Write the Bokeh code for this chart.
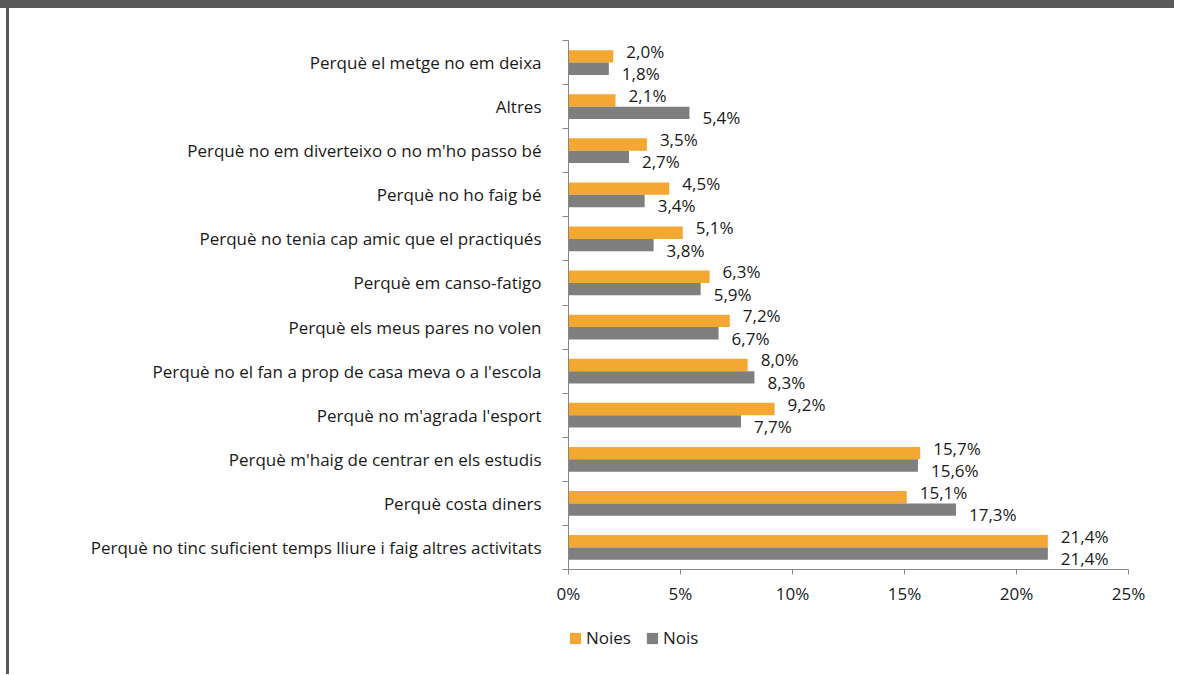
from bokeh.plotting import figure
from bokeh.layouts import column
from bokeh.models import ColumnDataSource, FixedTicker, Legend, LegendItem
from bokeh.transform import dodge
from bokeh.core.properties import value
from bokeh.embed import file_html
from bokeh.resources import INLINE

# Data (listed top to bottom as in the chart)
categories = [
    "Perquè el metge no em deixa",
    "Altres",
    "Perquè no em diverteixo o no m'ho passo bé",
    "Perquè no ho faig bé",
    "Perquè no tenia cap amic que el practiqués",
    "Perquè em canso-fatigo",
    "Perquè els meus pares no volen",
    "Perquè no el fan a prop de casa meva o a l'escola",
    "Perquè no m'agrada l'esport",
    "Perquè m'haig de centrar en els estudis",
    "Perquè costa diners",
    "Perquè no tinc suficient temps lliure i faig altres activitats",
]
noies = [2.0, 2.1, 3.5, 4.5, 5.1, 6.3, 7.2, 8.0, 9.2, 15.7, 15.1, 21.4]
nois = [1.8, 5.4, 2.7, 3.4, 3.8, 5.9, 6.7, 8.3, 7.7, 15.6, 17.3, 21.4]
x_ticks = [0, 5, 10, 15, 20, 25]
x_tick_labels = ["0%", "5%", "10%", "15%", "20%", "25%"]
series_names = ["Noies", "Nois"]

ORANGE = "#F5A733"
GRAY = "#7F7F7F"
AXIS = "#868686"
DARK = "#595959"
FONT = "Open Sans"
TXT = "#1a1a1a"
FS = "17px"

n = len(categories)
ypos = [n - 1 - i for i in range(n)]

def fmt(v):
    return f"{v:.1f}".replace(".", ",") + "%"

src = ColumnDataSource(dict(
    y=ypos, noies=noies, nois=nois,
    lab_noies=[fmt(v) for v in noies],
    lab_nois=[fmt(v) for v in nois],
))

p = figure(
    width=1174, height=610,
    x_range=(0, 25), y_range=(-0.5, n - 0.5),
    output_backend="svg", toolbar_location=None,
    min_border_left=568, min_border_right=46,
    min_border_top=40, min_border_bottom=41,
)
p.outline_line_color = None
p.xgrid.grid_line_color = None
p.ygrid.grid_line_color = None
p.background_fill_color = "white"
p.border_fill_alpha = 0

bh = 0.28
p.hbar(y=dodge("y", bh / 2), left=0, right="noies", height=bh,
       source=src, fill_color=ORANGE, line_color=None)
p.hbar(y=dodge("y", -bh / 2), left=0, right="nois", height=bh,
       source=src, fill_color=GRAY, line_color=None)

p.text(x="noies", y=dodge("y", bh / 2), text="lab_noies", source=src,
       x_offset=13, y_offset=-5, text_baseline="middle", text_align="left",
       text_font=value(FONT), text_font_size=FS, text_color=TXT)
p.text(x="nois", y=dodge("y", -bh / 2), text="lab_nois", source=src,
       x_offset=13, y_offset=5, text_baseline="middle", text_align="left",
       text_font=value(FONT), text_font_size=FS, text_color=TXT)

# x axis
xa = p.xaxis[0]
xa.ticker = FixedTicker(ticks=x_ticks)
xa.major_label_overrides = {t: l for t, l in zip(x_ticks, x_tick_labels)}
xa.axis_line_color = AXIS
xa.major_tick_line_color = AXIS
xa.major_tick_out = 5
xa.major_tick_in = 0
xa.minor_tick_line_color = None
xa.major_label_standoff = 7
xa.major_label_text_font = FONT
xa.major_label_text_font_size = FS
xa.major_label_text_color = TXT

# y axis: labels at category centres, ticks at category boundaries
ya = p.yaxis[0]
ya.ticker = FixedTicker(ticks=ypos, minor_ticks=[k - 0.5 for k in range(n + 1)])
ya.major_label_overrides = {y: c for y, c in zip(ypos, categories)}
ya.axis_line_color = AXIS
ya.major_tick_line_color = None
ya.major_tick_out = 0
ya.major_tick_in = 0
ya.minor_tick_line_color = AXIS
ya.minor_tick_out = 6
ya.minor_tick_in = 0
ya.major_label_standoff = 21
ya.major_label_text_font = FONT
ya.major_label_text_font_size = FS
ya.major_label_text_color = TXT

# Legend strip below the chart (its frame is aligned with the chart's frame)
pl = figure(
    width=1174, height=64, x_range=(0, 25), y_range=(n + 1, n + 2),
    output_backend="svg", toolbar_location=None,
    min_border_left=568, min_border_right=46,
    min_border_top=0, min_border_bottom=0,
)
pl.axis.visible = False
pl.grid.visible = False
pl.outline_line_color = None
pl.background_fill_alpha = 0
pl.border_fill_alpha = 0
# same series drawn outside this strip's visible range: only used as legend swatches
d1 = pl.hbar(y="y", left=0, right="noies", height=bh, source=src,
             fill_color=ORANGE, line_color=None)
d2 = pl.hbar(y="y", left=0, right="nois", height=bh, source=src,
             fill_color=GRAY, line_color=None)
legend = Legend(
    items=[LegendItem(label=series_names[0], renderers=[d1]),
           LegendItem(label=series_names[1], renderers=[d2])],
    orientation="horizontal", location=(0, 25),
    glyph_width=14, glyph_height=14, label_standoff=4, spacing=14,
    padding=0, margin=0, border_line_color=None, background_fill_alpha=0,
    label_text_font=FONT, label_text_font_size=FS, label_text_color=TXT,
    label_height=14,
)
pl.add_layout(legend, "center")

layout = column(p, pl, spacing=0, styles={
    "background-color": "white",
    "background-image": f"linear-gradient({DARK}, {DARK}), linear-gradient({DARK}, {DARK})",
    "background-size": "100% 8px, 3px 100%",
    "background-position": "0 0, 6px 0",
    "background-repeat": "no-repeat",
})
open("out.html", "w").write(file_html(layout, INLINE))
